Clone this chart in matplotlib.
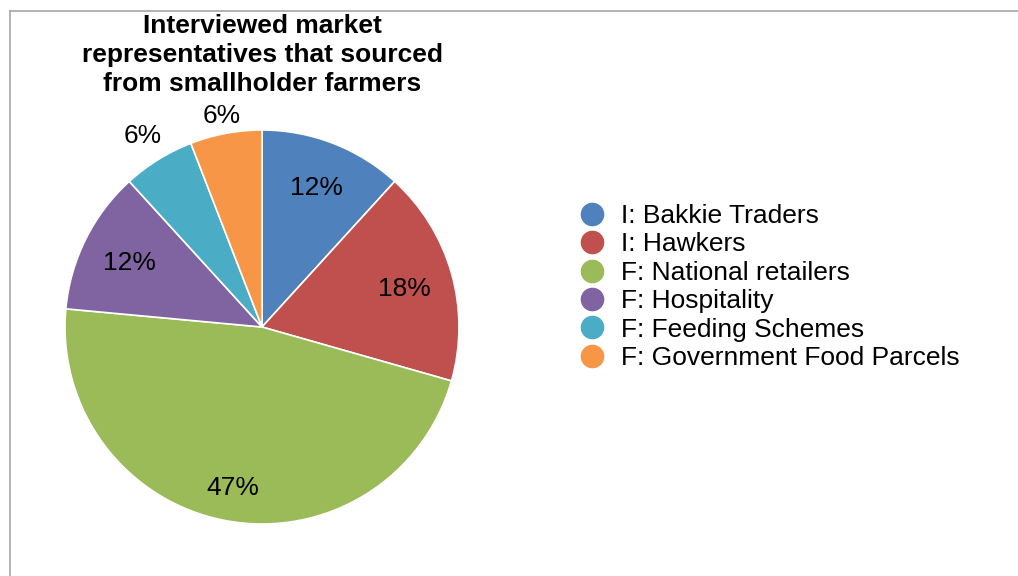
import matplotlib.pyplot as plt
import numpy as np
from matplotlib.lines import Line2D

plt.rcParams['font.family'] = ['Liberation Sans', 'DejaVu Sans']

# Number of interviewed representatives per market channel
categories = ['I: Bakkie Traders', 'I: Hawkers', 'F: National retailers',
              'F: Hospitality', 'F: Feeding Schemes', 'F: Government Food Parcels']
counts = [2, 3, 8, 2, 1, 1]
colors = ['#4F81BD', '#C0504D', '#9BBB59', '#8064A2', '#4BACC6', '#F79646']
# radial position of each percentage label (fraction of radius)
label_dist = [0.77, 0.75, 0.82, 0.75, 1.15, 1.10]

W, H = 1018, 576
fig = plt.figure(figsize=(W / 100, H / 100), dpi=100)
fig.patch.set_facecolor('white')

# pie centred at (262, 327) px with radius 197 px
cx, cy, r = 262, 327, 197
ax = fig.add_axes([(cx - r) / W, (H - cy - r) / H, 2 * r / W, 2 * r / H])
wedges, texts, autotexts = ax.pie(
    counts, colors=colors, startangle=90, counterclock=False, radius=1,
    autopct='%.0f%%', pctdistance=0.75,
    wedgeprops=dict(edgecolor='white', linewidth=1.2),
    textprops=dict(fontsize=19, color='black'))
ax.set_xlim(-1, 1)
ax.set_ylim(-1, 1)
ax.set_aspect('equal')
ax.axis('off')

for w, t, d in zip(wedges, autotexts, label_dist):
    ang = np.deg2rad((w.theta1 + w.theta2) / 2)
    t.set_position((d * np.cos(ang), d * np.sin(ang) - 0.01))
    t.set_ha('center')
    t.set_va('center')

fig.text(cx / W, (H - 55) / H,
         'Interviewed market\nrepresentatives that sourced\nfrom smallholder farmers',
         ha='center', va='center', fontsize=19, fontweight='bold', linespacing=1.25)

handles = [Line2D([], [], marker='o', linestyle='none', markersize=16,
                  markerfacecolor=c, markeredgecolor=c) for c in colors]
fig.legend(handles, categories, loc='center left',
           bbox_to_anchor=(563 / W, (H - 287) / H), frameon=False,
           fontsize=19, labelspacing=0.17, handletextpad=0.5,
           handlelength=1.2, borderpad=0)

# frame lines along top and left edges
fig.add_artist(Line2D([9.5 / W, 1], [(H - 10.5) / H] * 2, color='#a6a6a6', lw=1.2))
fig.add_artist(Line2D([9.5 / W] * 2, [0, (H - 10.5) / H], color='#a6a6a6', lw=1.2))

fig.savefig('out.png', dpi=100)
